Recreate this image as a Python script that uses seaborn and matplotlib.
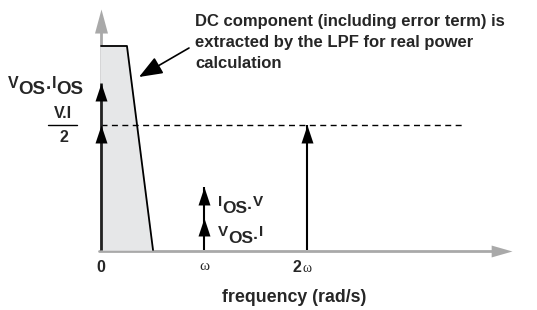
import matplotlib
matplotlib.use('Agg')
import matplotlib.pyplot as plt
import seaborn as sns

# =============================================================================
# Spectrum data: frequency in multiples of omega, amplitude in units of V.I/2
# =============================================================================

dc_levels = [1.0, 1.336]        # V.I/2, then V.I/2 + Vos.Ios stacked on top
w_levels = [0.256, 0.504]       # Vos.I, then Vos.I + Ios.V stacked on top
w2_levels = [1.0]               # V.I/2 at 2 omega
lpf_freq = [0.0, 0.0, 0.252, 0.505]
lpf_gain = [0.0, 1.632, 1.632, 0.0]
ref_freq = [0.0, 3.5]
ref_level = [1.0, 1.0]
tick_pos = [0, 1, 2]
tick_labels = ['0', 'ω', '2ω']
note_lines = ['DC component (including error term) is',
              'extracted by the LPF for real power',
              'calculation']


def px(x, y):
    # pixel position of the reference layout -> data coordinates
    return (x - 101) / 103.0, (250 - y) / 125.0


sns.set_theme(style='white')
plt.rcParams['font.family'] = ['Liberation Sans', 'DejaVu Sans']

fig = plt.figure(figsize=(5.37, 3.10), dpi=100)
ax = fig.add_axes([0, 0, 1, 1])
x0, y0 = px(0, 310)
x1, y1 = px(537, 0)
ax.set_xlim(x0, x1)
ax.set_ylim(y0, y1)
ax.set_axis_off()
renderer = fig.canvas.get_renderer()


def chain(x, y, parts):
    # draw text pieces one after another; each piece is (text, size, raise_px)
    cx = x
    for s, size, up in parts:
        t = ax.text(*px(cx, y - up), s, ha='left', va='baseline',
                    fontsize=size, fontweight='bold')
        bb = t.get_window_extent(renderer)
        cx += bb.width


axis_grey = '#a9a9a9'
up_head = [(0, 0), (-1, -3), (1, -3), (0, 0)]
axis_up = [(0, 0), (-1, -3.7), (1, -3.7), (0, 0)]
axis_right = [(0, 0), (-3.5, 1), (-3.5, -1), (0, 0)]

# axes with arrow heads
ax.plot([0, 0], [0, px(0, 30)[1]], color=axis_grey, lw=2, zorder=1)
ax.plot([0], [px(0, 9)[1]], marker=axis_up, ms=34.6, color=axis_grey,
        mec='none', zorder=1)
ax.plot([px(99, 0)[0], px(495, 0)[0]], [px(0, 251)[1]] * 2,
        color=axis_grey, lw=2, zorder=1)
ax.plot([px(512, 0)[0]], [px(0, 251)[1]], marker=axis_right, ms=30,
        color=axis_grey, mec='none', zorder=1)

# LPF pass band
ax.fill(lpf_freq, lpf_gain, color='#e6e7e8', zorder=2)
sns.lineplot(x=lpf_freq[1:], y=lpf_gain[1:], sort=False, color='black',
             lw=1.3, ax=ax, zorder=3)

# reference level V.I/2
sns.lineplot(x=ref_freq, y=ref_level, color='black', lw=1,
             linestyle=(0, (4.3, 3.2)), ax=ax, zorder=3)

# spectral lines
ax.vlines(0, 0, max(dc_levels), color='#222222', lw=2.0, zorder=4)
ax.vlines(1, 0, max(w_levels), color='black', lw=1.5, zorder=4)
ax.vlines(2, 0, max(w2_levels), color='black', lw=1.5, zorder=4)
for lv in dc_levels:
    ax.plot([0], [lv], marker=up_head, ms=25.9, color='black', mec='none', zorder=5)
for lv in w_levels:
    ax.plot([1], [lv], marker=up_head, ms=25.9, color='black', mec='none', zorder=5)
for lv in w2_levels:
    ax.plot([2], [lv], marker=up_head, ms=25.9, color='black', mec='none', zorder=5)

# tick labels on frequency axis
ax.text(tick_pos[0], px(0, 267)[1], tick_labels[0], ha='center', va='center',
        fontsize=11.5, fontweight='bold')
ax.text(tick_pos[1], px(0, 267)[1], tick_labels[1], ha='center', va='center',
        fontsize=11, family=['Liberation Serif'])
ax.text(px(297, 0)[0], px(0, 267)[1], '2', ha='center', va='center',
        fontsize=11.5, fontweight='bold')
ax.text(px(307, 0)[0], px(0, 268)[1], 'ω', ha='center', va='center',
        fontsize=10, family=['Liberation Serif'])
ax.text(*px(294, 297), 'frequency (rad/s)', ha='center', va='center',
        fontsize=12.8, fontweight='bold')

# amplitude labels
chain(8, 94, [('V', 11.5, 6), ('OS', 13.5, 0), ('·', 13.5, 0),
              ('I', 11.5, 6), ('OS', 13.5, 0)])
ax.text(*px(63, 114), 'V.I', ha='center', va='center', fontsize=11.5,
        fontweight='bold')
ax.plot([px(48, 0)[0], px(77, 0)[0]], [px(0, 125)[1]] * 2, color='black', lw=1)
ax.text(*px(64, 138), '2', ha='center', va='center', fontsize=11.5,
        fontweight='bold')
chain(218, 213, [('I', 11, 7), ('OS', 12.5, 0), ('·', 12.5, 0), ('V', 11, 7)])
chain(218, 243, [('V', 11, 7), ('OS', 12.5, 0), ('·', 12.5, 0), ('I', 11, 7)])

# annotation for the LPF
for i, line in enumerate(note_lines):
    ax.text(*px(195, 26 + 21 * i), line, ha='left', va='baseline',
            fontsize=12, fontweight='bold')
ax.annotate('', xy=px(139, 77), xytext=px(189, 48),
            arrowprops=dict(arrowstyle='-|>,head_length=0.9,head_width=0.35',
                            mutation_scale=16, color='black', lw=1.2,
                            shrinkA=0, shrinkB=0))

fig.savefig('out.png', dpi=100)
